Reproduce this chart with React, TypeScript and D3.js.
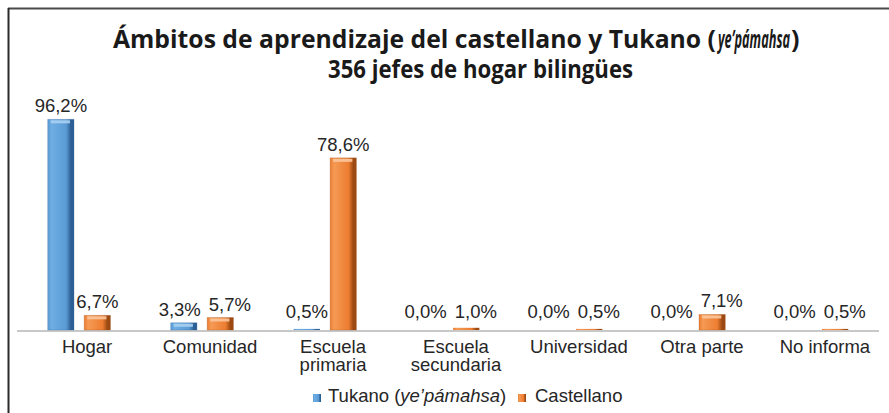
import React from "react";
import * as d3 from "d3";

const categories = ["Hogar", "Comunidad", "Escuela primaria", "Escuela secundaria", "Universidad", "Otra parte", "No informa"];
const categoryLines = [["Hogar"], ["Comunidad"], ["Escuela", "primaria"], ["Escuela", "secundaria"], ["Universidad"], ["Otra parte"], ["No informa"]];
const seriesNames = ["Tukano", "Castellano"];
const tukanoValues = [96.2, 3.3, 0.5, 0.0, 0.0, 0.0, 0.0];
const castellanoValues = [6.7, 5.7, 78.6, 1.0, 0.5, 7.1, 0.5];
const titlePart1 = "Ámbitos de aprendizaje del castellano y Tukano (";
const titleItalic = "ye’pámahsa";
const titleLine2 = "356 jefes de hogar bilingües";

const W = 889;
const H = 413;
const base = 330;
const font = "'Liberation Sans', Arial, sans-serif";
const fs = 18.5;
const titleFont = "'Open Sans', sans-serif";

const colors: Record<string, { light: string; mid: string; dark: string; top: string }> = {
  Tukano: { light: "#6eaee4", mid: "#5b9bd5", dark: "#2c5f94", top: "#a9d0f2" },
  Castellano: { light: "#f59a55", mid: "#ed7d31", dark: "#9c4a12", top: "#fbc79c" },
};

// approximate Arial advance widths (em)
const cw: Record<string, number> = { ",": 0.278, "%": 0.889 };
const textW = (s: string) => s.split("").reduce((a, c) => a + (cw[c] ?? 0.556), 0) * fs;

export default function App() {
  const x0 = d3.scaleBand<string>().domain(categories).range([17, 879]).paddingInner(0.49).paddingOuter(0.25);
  const x1 = d3.scaleBand<string>().domain(seriesNames).range([0, x0.bandwidth()]).paddingInner(0.28).paddingOuter(0);
  const y = d3.scaleLinear().domain([0, 100]).range([base, base - 219]);
  const valuesBy: Record<string, number[]> = { Tukano: tukanoValues, Castellano: castellanoValues };
  const fmt = (v: number) => v.toFixed(1).replace(".", ",") + "%";

  // label placement with simple collision avoidance
  const labels = categories.flatMap((c, i) => {
    const tb = fmt(tukanoValues[i]);
    const tc = fmt(castellanoValues[i]);
    const cb = x0(c)! + x1("Tukano")! + x1.bandwidth() / 2;
    const cc = x0(c)! + x1("Castellano")! + x1.bandwidth() / 2;
    const yb = Math.min(y(tukanoValues[i]) - 7, 318);
    const yc = Math.min(y(castellanoValues[i]) - 7, 318);
    let sb = 0;
    let sc = 0;
    if (Math.abs(yb - yc) < 16) {
      const need = (textW(tb) + textW(tc)) / 2 + 8;
      const d = need - (cc - cb);
      if (d > 0) {
        sb = -d * 0.3;
        sc = d * 0.7;
      }
    }
    return [
      { key: c + "t", x: cb + sb, y: yb, t: tb },
      { key: c + "c", x: cc + sc, y: yc, t: tc },
    ];
  });

  return (
    <svg width={W} height={H} style={{ position: "absolute", left: 0, top: 0, background: "#fff" }}>
      <defs>
        {seriesNames.map((s) => (
          <linearGradient key={s} id={`g-${s}`} x1="0" x2="1" y1="0" y2="0">
            <stop offset="0" stopColor={colors[s].mid} />
            <stop offset="0.15" stopColor={colors[s].light} />
            <stop offset="0.7" stopColor={colors[s].mid} />
            <stop offset="0.88" stopColor={colors[s].dark} />
            <stop offset="1" stopColor={colors[s].dark} />
          </linearGradient>
        ))}
      </defs>
      <rect x={0} y={0} width={W} height={H} fill="#fff" />
      {/* frame */}
      <line x1={8} x2={W} y1={8.5} y2={8.5} stroke="#4a4a4a" strokeWidth={2} />
      <line x1={8.5} x2={8.5} y1={8} y2={H} stroke="#2a2a2a" strokeWidth={2} />

      {/* title */}
      <text x={113} y={48} fontFamily={titleFont} fontWeight="bold" fontSize={25} fill="#1a1a1a" textLength={603} lengthAdjust="spacingAndGlyphs">
        {titlePart1}
      </text>
      <text x={718} y={48} fontFamily={titleFont} fontWeight="bold" fontStyle="italic" fontSize={25} fill="#1a1a1a" textLength={72} lengthAdjust="spacingAndGlyphs">
        {titleItalic}
      </text>
      <text x={791} y={48} fontFamily={titleFont} fontWeight="bold" fontSize={25} fill="#1a1a1a">
        )
      </text>
      <text x={328} y={78} fontFamily={titleFont} fontWeight="bold" fontSize={25} fill="#1a1a1a" textLength={305} lengthAdjust="spacingAndGlyphs">
        {titleLine2}
      </text>

      {/* baseline */}
      <line x1={17} x2={879} y1={331} y2={331} stroke="#c8c8c8" strokeWidth={2} />

      {/* bars */}
      {categories.map((c, i) => (
        <g key={c} transform={`translate(${x0(c)},0)`}>
          {seriesNames.map((s) => {
            const v = valuesBy[s][i];
            const bx = x1(s)!;
            const bw = x1.bandwidth();
            const top = y(v);
            const h = base - top;
            return (
              <g key={s}>
                {h > 0 && <rect x={bx} y={top} width={bw} height={h} fill={`url(#g-${s})`} />}
                {h > 6 && <rect x={bx + 3} y={top + 1} width={bw - 7} height={3} fill={colors[s].top} opacity={0.9} />}
                {h > 6 && <rect x={bx} y={top} width={bw} height={h} fill="none" stroke={colors[s].dark} strokeOpacity={0.35} strokeWidth={0.8} />}
              </g>
            );
          })}
        </g>
      ))}

      {/* value labels */}
      {labels.map((l) => (
        <text key={l.key} x={l.x} y={l.y} textAnchor="middle" fontFamily={font} fontSize={fs} fill="#262626">
          {l.t}
        </text>
      ))}

      {/* category labels */}
      {categories.map((c, i) => {
        const cx = x0(c)! + x0.bandwidth() / 2 + 8;
        return (
          <text key={c + "-c"} x={cx} y={353} textAnchor="middle" fontFamily={font} fontSize={fs} fill="#262626">
            {categoryLines[i].map((ln, j) => (
              <tspan key={j} x={cx} dy={j === 0 ? 0 : 18}>
                {ln}
              </tspan>
            ))}
          </text>
        );
      })}

      {/* legend */}
      <rect x={313} y={394} width={8} height={8} fill={`url(#g-Tukano)`} />
      <text x={328} y={402} fontFamily={font} fontSize={fs} fill="#262626">
        Tukano (<tspan fontStyle="italic">ye’pámahsa</tspan>)
      </text>
      <rect x={518} y={394} width={8} height={8} fill={`url(#g-Castellano)`} />
      <text x={535} y={402} fontFamily={font} fontSize={fs} fill="#262626">
        {seriesNames[1]}
      </text>
    </svg>
  );
}
